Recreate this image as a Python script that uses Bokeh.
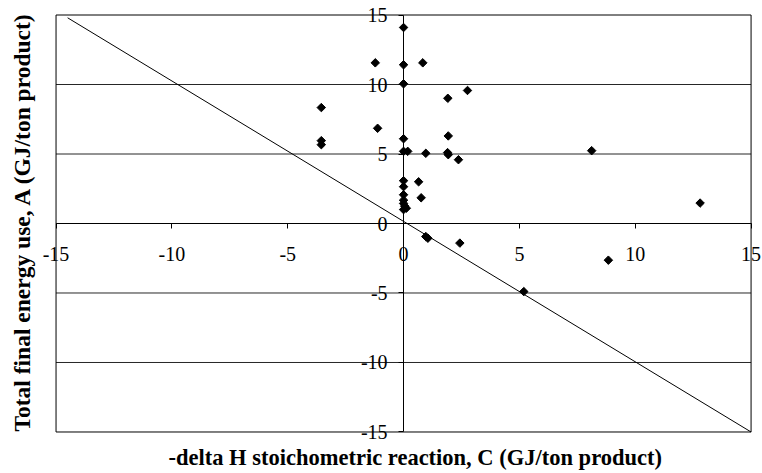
from bokeh.plotting import figure
from bokeh.models import (LinearAxis, FixedTicker, Range1d, LabelSet, ColumnDataSource,
                          BoxAnnotation, Title)
from bokeh.embed import file_html
from bokeh.resources import INLINE
import math

# Data
dh_c = [0, -1.22, 0, 0.83, 0, 1.91, 2.76, -3.55, -1.12, -3.55, -3.55, 0, 1.93, 0, 0.18,
        0.96, 1.9, 1.93, 2.37, 0, 0.65, 0, 0, 0.76, 0, 0, 0.05, 0.12, 0,
        0.96, 1.05, 2.43, 5.19, 8.12, 12.8, 8.84]
energy_a = [14.1, 11.56, 11.42, 11.56, 10.05, 9.01, 9.57, 8.34, 6.85, 5.96, 5.67, 6.1, 6.3, 5.19, 5.19,
            5.05, 5.1, 4.95, 4.59, 3.08, 3.0, 2.65, 2.07, 1.85, 1.68, 1.44, 1.25, 1.1, 1.0,
            -0.94, -1.06, -1.41, -4.9, 5.24, 1.47, -2.64]
line_x = [-14.5, 15]
line_y = [14.8, -15]
ticks = [-15, -10, -5, 0, 5, 10, 15]
tick_labels = ["-15", "-10", "-5", "0", "5", "10", "15"]
grid_ticks = [-10, -5, 0, 5, 10]
axis_min, axis_max = -15, 15
x_title = "-delta H stoichometric reaction, C (GJ/ton product)"
y_title = "Total final energy use, A (GJ/ton product)"

FONT = "Liberation Serif"

p = figure(width=762, height=471, output_backend="svg", toolbar_location=None,
           x_range=Range1d(-15.8, 15.45), y_range=Range1d(-15.9, 15.9),
           x_axis_type=None, y_axis_type=None,
           min_border_left=37, min_border_top=2, min_border_right=1, min_border_bottom=27)
p.outline_line_color = None
p.background_fill_color = "white"
p.border_fill_color = "white"
p.xgrid.visible = False
p.ygrid.visible = False

# plot box
p.add_layout(BoxAnnotation(left=axis_min, right=axis_max, bottom=axis_min, top=axis_max,
                           fill_alpha=0, line_color="black", line_width=1, line_alpha=1))

# horizontal gridlines
p.segment(x0=[axis_min] * len(grid_ticks), x1=[axis_max] * len(grid_ticks),
          y0=grid_ticks, y1=grid_ticks, line_color="black", line_alpha=0.85, line_width=1)

# axes crossing at the origin (lines and ticks only)
xa = LinearAxis(fixed_location=0, ticker=FixedTicker(ticks=ticks), bounds=(axis_min, axis_max))
ya = LinearAxis(fixed_location=0, ticker=FixedTicker(ticks=ticks), bounds=(axis_min, axis_max))
for ax in (xa, ya):
    ax.major_label_text_color = None
    ax.axis_line_color = "black"
    ax.major_tick_line_color = "black"
    ax.major_tick_out = 5
    ax.major_tick_in = 0
    ax.minor_tick_line_color = None
p.add_layout(xa, "below")
p.add_layout(ya, "left")

zeros = [0] * len(ticks)
xsrc = ColumnDataSource(dict(x=ticks, y=zeros, t=tick_labels))
ysrc = ColumnDataSource(dict(x=zeros, y=ticks, t=tick_labels))
p.add_layout(LabelSet(x="x", y="y", text="t", source=xsrc, text_align="center",
                      text_baseline="top", y_offset=-23, text_font=FONT,
                      text_font_size="20px", text_color="black"))
p.add_layout(LabelSet(x="x", y="y", text="t", source=ysrc, text_align="right",
                      text_baseline="middle", x_offset=-16, text_font=FONT,
                      text_font_size="20px", text_color="black"))

p.add_layout(Title(text=x_title, align="left", offset=131, standoff=0, vertical_align="top",
                   text_font=FONT, text_font_style="bold", text_font_size="22.5px",
                   text_color="black"), "below")
p.add_layout(Title(text=y_title, align="left", offset=13, standoff=5,
                   text_font=FONT, text_font_style="bold", text_font_size="23.5px",
                   text_color="black"), "left")

p.line(line_x, line_y, line_color="black", line_width=1)
p.scatter(dh_c, energy_a, marker="square", angle=math.pi / 4, size=6,
          fill_color="black", line_color="black")

open("out.html", "w").write(file_html(p, INLINE))
